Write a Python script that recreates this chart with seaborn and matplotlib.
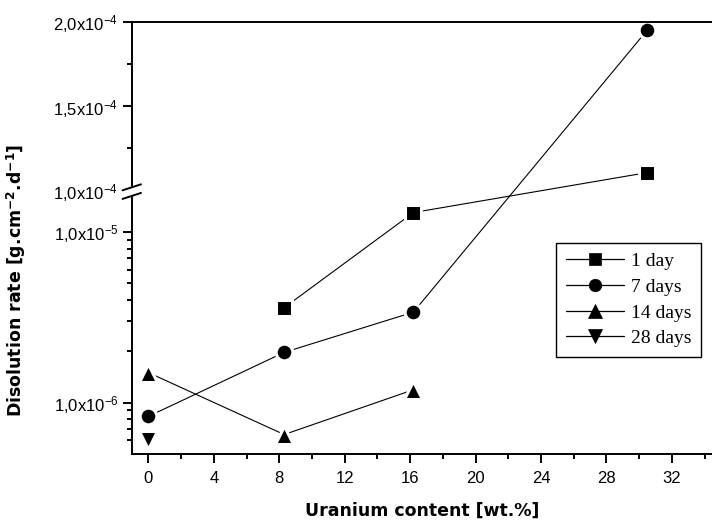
import numpy as np
import matplotlib
matplotlib.use("Agg")
import matplotlib.pyplot as plt
import seaborn as sns
from matplotlib.patches import Polygon
from matplotlib.ticker import NullFormatter

# ---------------- data ----------------
x_1day = [8.3, 16.2, 30.5]
y_1day = [3.6e-6, 1.3e-5, 1.107e-4]
x_7days = [0.0, 8.3, 16.2, 30.5]
y_7days = [8.3e-7, 1.97e-6, 3.39e-6, 1.953e-4]
x_14days = [0.0, 8.3, 16.2]
y_14days = [1.5e-6, 6.5e-7, 1.19e-6]
x_28days = [0.0]
y_28days = [6.0e-7]
series_labels = ["1 day", "7 days", "14 days", "28 days"]

x_major = [0, 4, 8, 12, 16, 20, 24, 28, 32]
x_minor = [2, 6, 10, 14, 18, 22, 26, 30, 34]
y_major = [1e-6, 1e-5, 1e-4, 1.5e-4, 2e-4]
y_major_labels = ["1,0x10$^{-6}$", "1,0x10$^{-5}$", "1,0x10$^{-4}$",
                  "1,5x10$^{-4}$", "2,0x10$^{-4}$"]
y_minor = [6e-7, 7e-7, 8e-7, 9e-7, 2e-6, 3e-6, 4e-6, 5e-6, 6e-6, 7e-6,
           8e-6, 9e-6, 1.25e-4, 1.75e-4]

# ---------------- broken (log / linear) scale ----------------
Y_LOW = 5e-7
Y_BRK_LO = 1.7e-5
Y_BRK_HI = 1e-4
Y_TOP = 2e-4
L = np.log10(Y_BRK_LO)
GAP = 0.012
UP_SPAN = 0.988
K = UP_SPAN / (Y_TOP - Y_BRK_HI)


def fwd(y):
    y = np.asarray(y, dtype=float)
    with np.errstate(all="ignore"):
        lo = np.log10(np.clip(y, 1e-30, None))
        mid = L + (y - Y_BRK_LO) / (Y_BRK_HI - Y_BRK_LO) * GAP
        hi = L + GAP + (y - Y_BRK_HI) * K
    return np.where(y <= Y_BRK_LO, lo, np.where(y < Y_BRK_HI, mid, hi))


def inv(f):
    f = np.asarray(f, dtype=float)
    with np.errstate(all="ignore"):
        lo = np.power(10.0, np.clip(f, -300, 300))
        mid = Y_BRK_LO + (f - L) / GAP * (Y_BRK_HI - Y_BRK_LO)
        hi = Y_BRK_HI + (f - L - GAP) / K
    return np.where(f <= L, lo, np.where(f < L + GAP, mid, hi))


# ---------------- style ----------------
sns.set_theme(style="ticks")
plt.rcParams["font.family"] = ["Liberation Sans", "DejaVu Sans"]
plt.rcParams["mathtext.fontset"] = "custom"
plt.rcParams["mathtext.rm"] = "Liberation Sans"
plt.rcParams["mathtext.it"] = "Liberation Sans:italic"
plt.rcParams["mathtext.bf"] = "DejaVu Sans:bold"
plt.rcParams["axes.linewidth"] = 1.4
plt.rcParams["text.color"] = "black"
plt.rcParams["axes.labelcolor"] = "black"
plt.rcParams["xtick.color"] = "black"
plt.rcParams["ytick.color"] = "black"

W, H = 712, 526
fig = plt.figure(figsize=(W / 100, H / 100), dpi=100)
ax_l, ax_b, ax_t = 132, 454, 22
ax = fig.add_axes([ax_l / W, 1 - ax_b / H, 1 - ax_l / W, (ax_b - ax_t) / H])
ax.set_facecolor("white")
ax.set_yscale("function", functions=(fwd, inv))

line_kw = dict(color="black", lw=0.8, mec="white", mew=2.2, errorbar=None, ax=ax)
sns.lineplot(x=x_1day, y=y_1day, marker="s", ms=11.5, label=series_labels[0], **line_kw)
sns.lineplot(x=x_7days, y=y_7days, marker="o", ms=12.0, label=series_labels[1], **line_kw)
sns.lineplot(x=x_14days, y=y_14days, marker="^", ms=13.5, label=series_labels[2], **line_kw)
sns.lineplot(x=x_28days, y=y_28days, marker="v", ms=13.5, label=series_labels[3], **line_kw)

ax.set_xlim(-1, 34.45)
ax.set_ylim(Y_LOW, Y_TOP)

ax.set_xticks(x_major)
ax.set_xticks(x_minor, minor=True)
ax.set_yticks(y_major, labels=y_major_labels)
ax.set_yticks(y_minor, minor=True)
ax.yaxis.set_minor_formatter(NullFormatter())
ax.tick_params(axis="both", which="major", direction="out", length=6.3, width=1.4,
               labelsize=12, color="black", labelcolor="black")
ax.tick_params(axis="both", which="minor", direction="out", length=3.6, width=1.4,
               color="black")
ax.tick_params(axis="x", which="major", pad=6)
ax.tick_params(axis="y", which="major", pad=3.5)
# the tick at the break is replaced by the break marks
ax.yaxis.get_major_ticks()[2].tick1line.set_visible(False)

for s in ["left", "bottom", "top"]:
    ax.spines[s].set_color("black")
    ax.spines[s].set_linewidth(1.4)
ax.spines["right"].set_visible(False)

ax.set_xlabel("Uranium content [wt.%]", fontfamily="DejaVu Sans", fontweight="bold",
              fontsize=12.5, labelpad=11, color="black")
ax.set_ylabel("Disolution rate [g.cm$^{\\mathbf{-2}}$.d$^{\\mathbf{-1}}$]",
              fontfamily="DejaVu Sans", fontweight="bold", fontsize=12.5, color="black")
ax.yaxis.set_label_coords(-0.179, 0.403)

# ---------------- break marks on the y axis ----------------
AW, AH = W - ax_l, ax_b - ax_t
f_min, f_max = float(fwd(Y_LOW)), float(fwd(Y_TOP))
c = (L + GAP / 2 - f_min) / (f_max - f_min)
dy = 4.3 / AH
x0, x1 = -9.5 / AW, 9.0 / AW
sl = 3.0 / AH
gx0, gx1 = -3.0 / AW, 3.0 / AW
def ly(x, off):
    return c + off + (x - (x0 + x1) / 2) / (x1 - x0) * 2 * sl
poly = Polygon([(gx0, ly(gx0, -dy)), (gx1, ly(gx1, -dy)), (gx1, ly(gx1, dy)), (gx0, ly(gx0, dy))],
               closed=True, transform=ax.transAxes, facecolor="white", edgecolor="none",
               clip_on=False, zorder=10)
ax.add_patch(poly)
for off in (-dy, dy):
    ax.plot([x0, x1], [ly(x0, off), ly(x1, off)], transform=ax.transAxes, color="black",
            lw=1.4, clip_on=False, zorder=11)

# ---------------- legend ----------------
leg = ax.legend(loc="lower left", bbox_to_anchor=((556 - ax_l) / AW, (ax_b - 357) / AH),
                borderaxespad=0, frameon=True, fancybox=False, framealpha=1,
                prop={"family": "Liberation Serif", "size": 14},
                handlelength=3.0, handletextpad=0.35, labelspacing=0.42, borderpad=0.5)
leg.get_frame().set_edgecolor("black")
leg.get_frame().set_linewidth(1.0)
for h, ms in zip(leg.legend_handles, [8.0, 9.0, 10.0, 10.0]):
    h.set_markeredgecolor("black")
    h.set_markeredgewidth(0.5)
    h.set_markersize(ms)
    h.set_linewidth(0.9)

fig.savefig("out.png", dpi=100)
